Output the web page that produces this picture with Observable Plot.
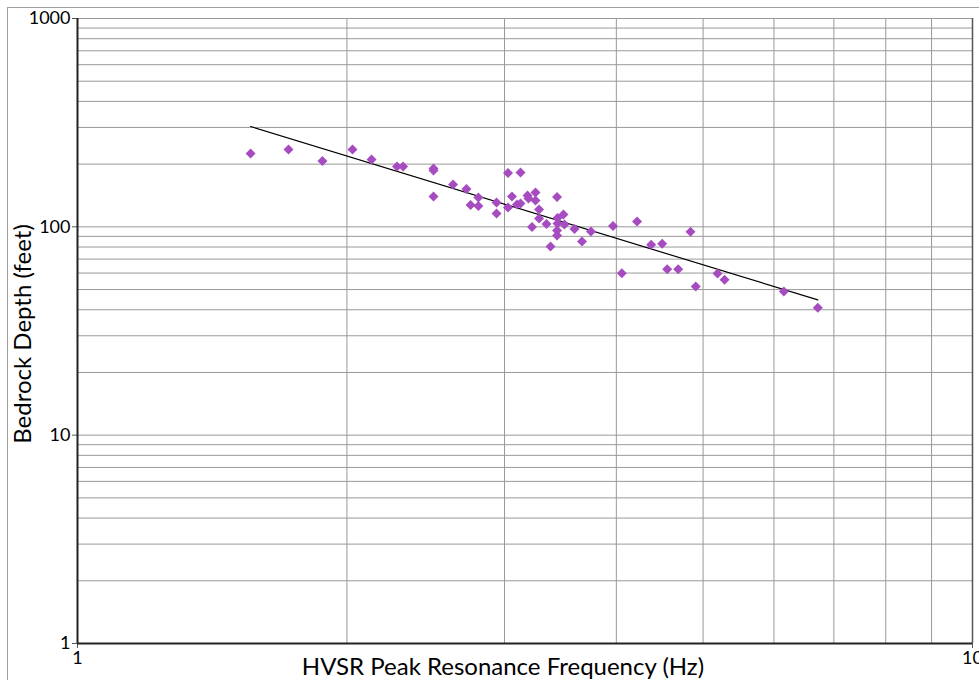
<!DOCTYPE html>
<html>
<head>
<meta charset="utf-8">
<script src="https://cdn.jsdelivr.net/npm/d3@7"></script>
<script src="https://cdn.jsdelivr.net/npm/@observablehq/plot@0.6"></script>
<style>
  html, body { margin: 0; padding: 0; background: #fff; overflow: hidden; }
  #wrap { position: relative; width: 979px; height: 680px; overflow: hidden; }
  #border { position: absolute; left: 7px; top: 7px; width: 1100px; height: 1100px; border: 1px solid #a0a0a0; box-sizing: border-box; pointer-events: none; }
  #chart { position: absolute; left: 0; top: 0; }
</style>
</head>
<body>
<div id="wrap"><div id="border"></div><div id="chart"></div></div>
<script>
// HVSR peak resonance frequency (Hz) vs bedrock depth (feet)
const frequency = [1.561, 1.721, 1.878, 2.029, 2.131, 2.275, 2.311, 2.499, 2.499, 2.499,
  2.628, 2.720, 2.749, 2.805, 2.805, 2.939, 2.939, 3.027, 3.126, 3.027,
  3.058, 3.098, 3.126, 3.183, 3.191, 3.249, 3.249, 3.279, 3.279, 3.220,
  3.342, 3.434, 3.438, 3.438, 3.491, 3.434, 3.434, 3.377, 3.500, 3.592,
  3.662, 3.747, 3.966, 4.219, 4.057, 4.375, 4.501, 4.841, 4.559, 4.690,
  4.907, 5.189, 5.284, 6.155, 6.717];
const depth = [224.9, 235.0, 207.0, 235.0, 210.5, 194.8, 194.8, 190.6, 186.4, 139.8,
  159.7, 151.9, 127.3, 138.3, 125.9, 130.9, 115.9, 181.3, 182.3, 123.8,
  139.8, 128.0, 129.4, 141.4, 136.8, 146.1, 133.8, 121.1, 109.6, 99.8,
  103.2, 139.1, 110.3, 103.8, 114.6, 96.0, 90.9, 80.5, 102.6, 97.6,
  85.0, 95.0, 100.9, 106.1, 59.9, 82.0, 82.9, 94.7, 62.6, 62.6,
  51.7, 59.7, 55.7, 48.9, 40.9];
// Power-law trendline endpoints (straight in log-log)
const trendFrequency = [1.561, 6.717];
const trendDepth = [303, 44.6];

const xTicks = [1, 10];
const yTicks = [1, 10, 100, 1000];
const xGrid = [1, 2, 3, 4, 5, 6, 7, 8, 9, 10];
const yGrid = [1, 2, 3, 4, 5, 6, 7, 8, 9, 10, 20, 30, 40, 50, 60, 70, 80, 90,
  100, 200, 300, 400, 500, 600, 700, 800, 900, 1000];
const xTitle = "HVSR Peak Resonance Frequency (Hz)";
const yTitle = "Bedrock Depth (feet)";

const points = frequency.map((f, i) => ({f, d: depth[i]}));
const trend = trendFrequency.map((f, i) => ({f, d: trendDepth[i]}));

const font = "Lato, 'Noto Sans', sans-serif";

const chart = Plot.plot({
  width: 979,
  height: 680,
  marginLeft: 77,
  marginRight: 7,
  marginTop: 18,
  marginBottom: 37,
  style: {fontFamily: font, fontSize: "18px", color: "#000", background: "transparent", overflow: "visible"},
  x: {type: "log", domain: [1, 10]},
  y: {type: "log", domain: [1, 1000]},
  marks: [
    Plot.gridX(xGrid, {stroke: "#999", strokeOpacity: 1}),
    Plot.gridY(yGrid, {stroke: "#999", strokeOpacity: 1}),
    Plot.ruleX([10], {stroke: "#555", strokeWidth: 1.5}),
    Plot.axisX(xTicks, {tickSize: 5, tickPadding: 3, fontSize: 18, label: null, stroke: "#555", tickFormat: d => String(d)}),
    Plot.axisY(yTicks, {tickSize: 5, tickPadding: 2, fontSize: 18, label: null, stroke: "#555", tickFormat: d => String(d)}),
    Plot.ruleX([1], {stroke: "#222", strokeWidth: 2}),
    Plot.ruleY([1], {stroke: "#222", strokeWidth: 2}),
    Plot.line(trend, {x: "f", y: "d", stroke: "#000", strokeWidth: 1.2}),
    Plot.dot(points, {x: "f", y: "d", symbol: "diamond2", r: 4.5, fill: "#a64cc0", stroke: "none"}),
    Plot.text([xTitle], {frameAnchor: "bottom", text: d => d, textAnchor: "middle", dx: -22, dy: 31, lineAnchor: "bottom", fontSize: 24, fill: "#000"}),
    Plot.text([yTitle], {frameAnchor: "left", text: d => d, textAnchor: "middle", dx: -54, dy: 3, rotate: -90, fontSize: 24, fill: "#000"})
  ]
});
document.getElementById("chart").appendChild(chart);
</script>
</body>
</html>
